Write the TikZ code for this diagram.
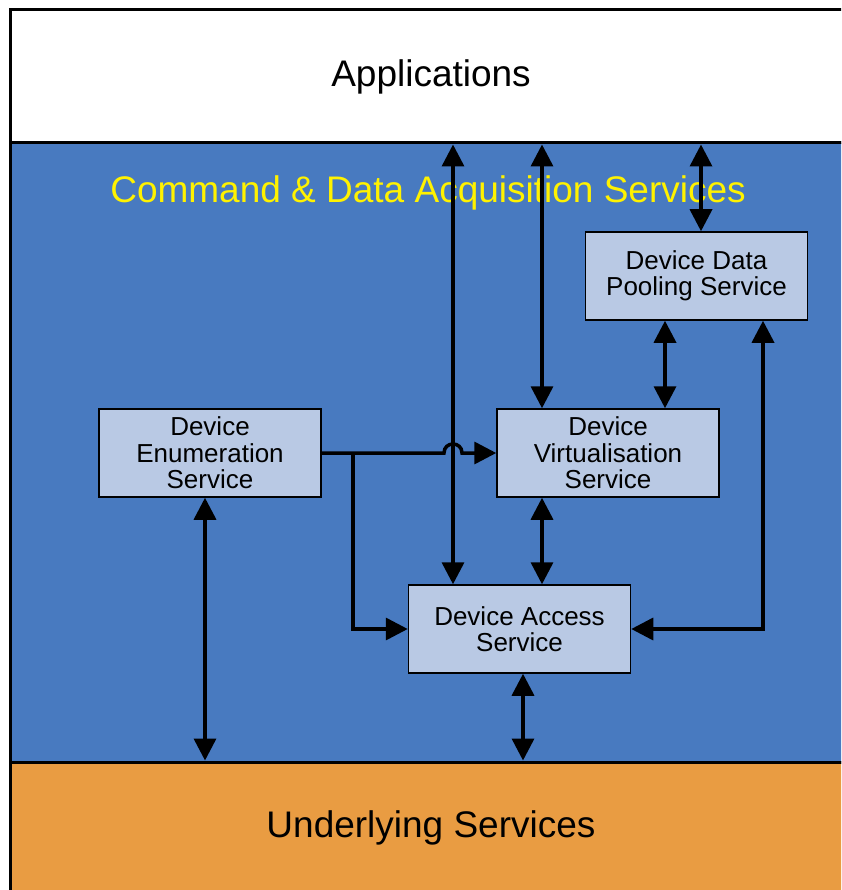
\documentclass[tikz,border=0pt]{standalone}
\usepackage{fontspec}
\setmainfont{Liberation Sans}
\usepackage{tikz}
\usetikzlibrary{arrows.meta}

\definecolor{layerBlue}{RGB}{72,122,192}
\definecolor{layerOrange}{RGB}{233,156,66}
\definecolor{serviceBlue}{RGB}{185,201,228}

\begin{document}
\begin{tikzpicture}[x=1pt,y=-1pt,
  bigtri/.tip={Triangle[length=22pt,width=22pt]},
  layer/.style={draw,line width=3pt,minimum width=842pt,inner sep=0pt,font=\fontsize{37}{40}\selectfont},
  service/.style={draw,line width=1.5pt,fill=serviceBlue,minimum width=222pt,minimum height=88pt,inner sep=0pt,align=center,font=\fontsize{26}{26.5}\selectfont},
  link/.style={line width=3.5pt,bigtri-bigtri},
  feed/.style={line width=3.5pt,-bigtri}]

  \useasboundingbox (0,0) rectangle (841,890);
  \clip (0,0) rectangle (841,890);

  % Layers
  \node[layer,fill=layerBlue,minimum height=619pt] (cdas) at (431,452.5) {};
  \node[layer,fill=white,minimum height=133pt] (apps) at (431,76.5) {Applications};
  \node[layer,fill=layerOrange,minimum height=132pt] (under) at (431,828) {Underlying Services};
  \node[text=yellow,font=\fontsize{37}{40}\selectfont,anchor=base] (title) at (428,203) {Command \& Data Acquisition Services};

  % Services
  \node[service] (pool) at (696.5,276) {Device Data\\Pooling Service};
  \node[service] (enum) at (210,453) {Device\\Enumeration\\Service};
  \node[service] (virt) at (608,453) {Device\\Virtualisation\\Service};
  \node[service] (access) at (519.5,629) {Device Access\\Service};

  % columns of the vertical flows
  \coordinate (colA) at (453,0);
  \coordinate (colB) at (542,0);
  \coordinate (colC) at (701,0);
  \coordinate (colD) at (665,0);
  \coordinate (colE) at (763,0);
  \coordinate (colF) at (353,0);
  \coordinate (colG) at (205,0);
  \coordinate (colH) at (523,0);

  % Flows
  \draw[link] (apps.south -| colA) -- (access.north -| colA);
  \draw[link] (apps.south -| colB) -- (virt.north -| colB);
  \draw[link] (virt.south -| colB) -- (access.north -| colB);
  \draw[link] (apps.south -| colC) -- (pool.north -| colC);
  \draw[link] (pool.south -| colD) -- (virt.north -| colD);
  \draw[link] (access.east) -| (pool.south -| colE);
  \draw[link] (enum.south -| colG) -- (under.north -| colG);
  \draw[link] (access.south -| colH) -- (under.north -| colH);

  %enumeration feeds, hopping over colA
  \draw[feed] (enum.east) -- ([xshift=-9pt]enum.east -| colA)
     .. controls +(0,-12) and +(0,-12) .. ([xshift=9pt]enum.east -| colA) -- (virt.west);
  \draw[feed] (enum.east -| colF) |- (access.west);
\end{tikzpicture}
\end{document}
